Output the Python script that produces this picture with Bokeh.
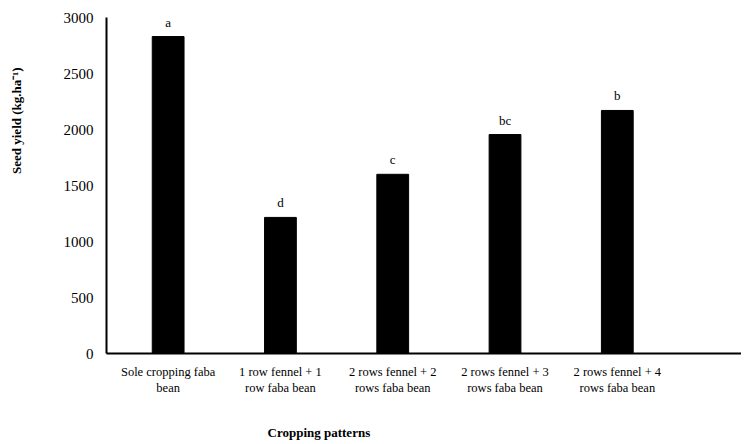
from bokeh.plotting import figure
from bokeh.models import ColumnDataSource, FixedTicker, Range1d, Title
from bokeh.core.properties import value
from bokeh.embed import file_html
from bokeh.resources import INLINE

categories = ["Sole cropping faba\nbean", "1 row fennel + 1\nrow faba bean",
              "2 rows fennel + 2\nrows faba bean", "2 rows fennel + 3\nrows faba bean",
              "2 rows fennel + 4\nrows faba bean"]
seed_yield = [2830, 1215, 1600, 1955, 2170]
letters = ["a", "d", "c", "bc", "b"]
y_ticks = [0, 500, 1000, 1500, 2000, 2500, 3000]

xs = list(range(len(categories)))
src = ColumnDataSource(dict(x=xs, y=seed_yield, lab=letters))

FONT = "Liberation Serif"
p = figure(width=741, height=444, output_backend="svg", toolbar_location=None,
           x_range=Range1d(-0.549, 5.106), y_range=Range1d(0, 3000),
           min_border_left=106, min_border_right=0, min_border_top=17, min_border_bottom=91)
p.outline_line_color = None
p.xgrid.grid_line_color = None
p.ygrid.grid_line_color = None

p.vbar(x="x", top="y", width=0.283, bottom=0, source=src, fill_color="black", line_color="black")
p.text(x="x", y="y", text="lab", source=src, text_align="center", text_baseline="bottom",
       y_offset=-7, text_font=value(FONT), text_font_size="13px", text_color="black")

p.xaxis.ticker = FixedTicker(ticks=xs)
p.xaxis.major_label_overrides = {i: c for i, c in enumerate(categories)}
p.yaxis.ticker = FixedTicker(ticks=y_ticks)
for ax in (p.xaxis, p.yaxis):
    ax.axis_line_width = 2
    ax.axis_line_color = "black"
    ax.major_tick_line_color = None
    ax.minor_tick_line_color = None
    ax.major_tick_out = 0
    ax.major_tick_in = 0
    ax.minor_tick_out = 0
    ax.minor_tick_in = 0
    ax.major_label_text_font = FONT
    ax.major_label_text_color = "black"
p.xaxis.major_label_text_font_size = "12.5px"
p.yaxis.major_label_text_font_size = "15px"
p.xaxis.major_label_standoff = 11
p.yaxis.major_label_standoff = 13

# blank spacer titles to push the axis titles outward
p.add_layout(Title(text="\u00a0", text_font_size="18px"), "left")
p.add_layout(Title(text="\u00a0", text_font_size="7px"), "below")

ytitle = Title(text="Seed yield (kg.ha\u207b\u00b9)", align="right", offset=50,
               text_font=FONT, text_font_size="13px", text_font_style="bold", text_color="black")
xtitle = Title(text="Cropping patterns", align="left", offset=161,
               text_font=FONT, text_font_size="13px", text_font_style="bold", text_color="black")
p.add_layout(ytitle, "left")
p.add_layout(xtitle, "below")

open("out.html", "w").write(file_html(p, INLINE))
